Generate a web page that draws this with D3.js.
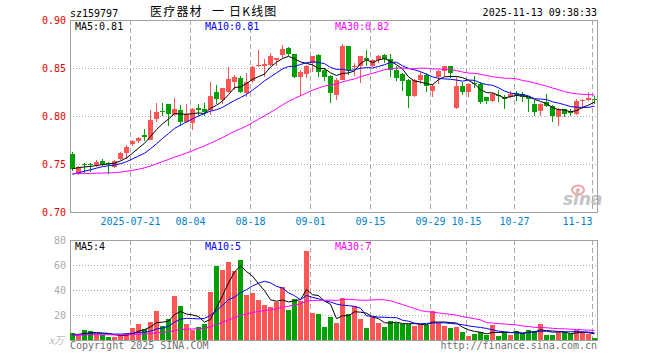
<!DOCTYPE html>
<html><head><meta charset="utf-8">
<script src="https://cdn.jsdelivr.net/npm/d3@7/dist/d3.min.js"></script>
<style>
body{margin:0;background:#fff}
svg{display:block}
text{font-family:"DejaVu Sans Mono","Liberation Mono",monospace;font-size:10px}
</style>
</head><body>
<svg id="c" width="660" height="360"></svg>
<script>
// ---- data ----
const dates = [
"2025-07-07","2025-07-08","2025-07-09","2025-07-10","2025-07-11","2025-07-14","2025-07-15","2025-07-16","2025-07-17","2025-07-18",
"2025-07-21","2025-07-22","2025-07-23","2025-07-24","2025-07-25","2025-07-28","2025-07-29","2025-07-30","2025-07-31","2025-08-01",
"2025-08-04","2025-08-05","2025-08-06","2025-08-07","2025-08-08","2025-08-11","2025-08-12","2025-08-13","2025-08-14","2025-08-15",
"2025-08-18","2025-08-19","2025-08-20","2025-08-21","2025-08-22","2025-08-25","2025-08-26","2025-08-27","2025-08-28","2025-08-29",
"2025-09-01","2025-09-02","2025-09-03","2025-09-04","2025-09-05","2025-09-08","2025-09-09","2025-09-10","2025-09-11","2025-09-12",
"2025-09-15","2025-09-16","2025-09-17","2025-09-18","2025-09-19","2025-09-22","2025-09-23","2025-09-24","2025-09-25","2025-09-26",
"2025-09-29","2025-09-30","2025-10-09","2025-10-10","2025-10-13","2025-10-14","2025-10-15","2025-10-16","2025-10-17","2025-10-20",
"2025-10-21","2025-10-22","2025-10-23","2025-10-24","2025-10-27","2025-10-28","2025-10-29","2025-10-30","2025-10-31","2025-11-03",
"2025-11-04","2025-11-05","2025-11-06","2025-11-07","2025-11-10","2025-11-11","2025-11-12","2025-11-13"];

const open = [0.760,0.741,0.750,0.750,0.749,0.753,0.751,0.747,0.755,0.761,
0.771,0.774,0.780,0.775,0.797,0.805,0.812,0.801,0.806,0.794,
0.793,0.808,0.807,0.806,0.825,0.817,0.825,0.835,0.840,0.824,
0.836,0.852,0.852,0.853,0.858,0.864,0.871,0.865,0.841,0.844,
0.855,0.864,0.848,0.842,0.822,0.838,0.873,0.851,0.852,0.860,
0.852,0.858,0.864,0.859,0.848,0.844,0.837,0.821,0.837,0.843,
0.826,0.841,0.847,0.852,0.808,0.831,0.825,0.834,0.833,0.820,
0.816,0.822,0.820,0.820,0.824,0.823,0.820,0.813,0.805,0.815,
0.810,0.799,0.807,0.805,0.802,0.816,0.817,0.818];

const high = [0.762,0.748,0.751,0.751,0.754,0.755,0.752,0.754,0.762,0.770,
0.775,0.778,0.786,0.806,0.814,0.814,0.812,0.819,0.811,0.813,
0.808,0.812,0.814,0.835,0.832,0.829,0.851,0.843,0.842,0.845,
0.852,0.869,0.859,0.866,0.860,0.874,0.872,0.865,0.848,0.853,
0.862,0.865,0.850,0.843,0.840,0.875,0.873,0.855,0.863,0.869,
0.859,0.864,0.865,0.865,0.852,0.845,0.839,0.839,0.846,0.845,
0.833,0.848,0.852,0.852,0.841,0.835,0.834,0.842,0.835,0.820,
0.825,0.827,0.822,0.826,0.826,0.825,0.820,0.817,0.814,0.823,
0.811,0.808,0.807,0.807,0.818,0.818,0.825,0.821];

const low = [0.743,0.739,0.741,0.742,0.747,0.748,0.740,0.746,0.754,0.755,
0.769,0.772,0.774,0.775,0.794,0.800,0.790,0.800,0.790,0.793,
0.785,0.800,0.800,0.801,0.812,0.813,0.824,0.827,0.824,0.820,
0.834,0.851,0.841,0.852,0.852,0.860,0.862,0.840,0.821,0.840,
0.846,0.841,0.836,0.814,0.817,0.838,0.843,0.842,0.834,0.852,
0.851,0.855,0.855,0.841,0.836,0.826,0.808,0.820,0.833,0.825,
0.820,0.833,0.841,0.840,0.807,0.822,0.820,0.829,0.813,0.812,
0.815,0.815,0.807,0.819,0.816,0.815,0.804,0.800,0.800,0.809,
0.794,0.790,0.799,0.800,0.801,0.807,0.816,0.812];

const close = [0.745,0.747,0.749,0.749,0.752,0.750,0.750,0.753,0.761,0.768,
0.774,0.777,0.778,0.796,0.804,0.804,0.802,0.807,0.794,0.802,
0.807,0.806,0.804,0.821,0.818,0.829,0.839,0.841,0.825,0.835,
0.851,0.853,0.854,0.862,0.860,0.870,0.865,0.841,0.846,0.852,
0.862,0.846,0.841,0.824,0.838,0.873,0.848,0.852,0.862,0.858,
0.858,0.862,0.859,0.848,0.840,0.836,0.821,0.837,0.843,0.831,
0.831,0.847,0.852,0.845,0.831,0.825,0.833,0.833,0.815,0.816,
0.823,0.821,0.818,0.823,0.822,0.820,0.818,0.804,0.812,0.810,
0.800,0.807,0.802,0.803,0.816,0.817,0.819,0.817];

// volume, 万
const volume = [5.9,4.0,8.0,7.2,4.8,4.0,2.4,2.7,4.0,5.9,
9.6,12.8,9.1,14.7,23.2,11.5,16.8,35.2,27.5,12.8,
8.0,10.4,12.8,38.4,59.5,56.0,62.4,55.2,64.0,36.3,
37.6,32.0,28.0,26.7,30.7,42.7,24.0,32.8,31.2,71.2,
21.9,20.8,10.7,18.4,13.6,33.6,20.5,26.9,16.8,9.6,
18.7,13.6,10.4,15.2,13.6,12.8,12.8,11.2,12.0,12.0,
23.2,13.6,11.2,9.6,10.4,6.4,3.2,4.8,6.1,4.0,
12.0,3.2,6.1,4.0,7.2,5.6,8.0,7.2,12.8,4.0,
4.0,6.1,6.1,4.8,7.7,5.6,4.8,1.6];

// sessions before the visible window (estimated from where the MA lines start)
const prevClose = [0.748,0.747,0.746,0.745,0.745,0.744,0.744,0.745,0.743,0.744,
0.740,0.738,0.737,0.736,0.735,0.735,0.734,0.736,0.733,0.732,
0.731,0.733,0.734,0.735,0.735,0.741,0.745,0.747,0.747];
const prevVolume = [4.5,3.8,4.6,4.0,3.9,4.4,4.2,3.9,4.5,4.1,4.3,4.3,
3.9,3.5,3.8,3.4,4.0,3.6,3.7,3.6,
3.4,3.6,3.3,3.7,3.5,
3.9,4.4,4.0,4.3];

const tickDates = ["2025-07-21","2025-08-04","2025-08-18","2025-09-01","2025-09-15","2025-09-29","2025-10-15","2025-10-27","2025-11-13"];
const tickLabels = ["2025-07-21","08-04","08-18","09-01","09-15","09-29","10-15","10-27","11-13"];
const priceTicks = [0.70,0.75,0.80,0.85,0.90];
const volTicks = [20,40,60,80];
const maPeriods = [5,10,30];
const priceMaLabels = ["MA5:0.81","MA10:0.81","MA30:0.82"];
const volMaLabels = ["MA5:4","MA10:5","MA30:7"];

// ---- layout ----
const svg = d3.select("#c");
const L = 70, R = 597, PT = 20, PB = 212, VT = 240, VB = 340;
const UP = "#ff5555", DOWN = "#00a000";
const maColors = ["#000000", "#0000ff", "#ff00ff"];
const GRID = "#a8a8a8";

const x = d3.scaleBand().domain(dates).range([L, R]).paddingInner(1/6).paddingOuter(0);
const bw = x.bandwidth();
const yP = d3.scaleLinear().domain([0.70, 0.90]).range([PB, PT]);
const yV = d3.scaleLinear().domain([0, 80]).range([VB, VT]);

svg.append("rect").attr("width", 660).attr("height", 360).attr("fill", "#fff");

// header
svg.append("text").attr("x", 70).attr("y", 16.5).attr("fill", "#000").text("sz159797");
const title = svg.append("text").attr("y", 16)
  .style("font-family", '"Noto Sans CJK SC","Noto Sans CJK JP",sans-serif')
  .style("font-size", "12px").style("letter-spacing", "1.2px").attr("fill", "#000");
title.append("tspan").attr("x", 150).text("医疗器材");
title.append("tspan").attr("x", 212).text("一");
title.append("tspan").attr("x", 229).text("日K线图");
svg.append("text").attr("x", 597).attr("y", 15.5).attr("text-anchor", "end").attr("fill", "#000").text("2025-11-13 09:38:33");

// watermark
const logo = svg.append("g");
logo.append("ellipse").attr("cx", 578).attr("cy", 190).attr("rx", 6).attr("ry", 4.5).attr("fill", "none").attr("stroke", "#f2a0a0").attr("stroke-width", 2);
logo.append("circle").attr("cx", 578).attr("cy", 190).attr("r", 1.8).attr("fill", "#f2a0a0");
logo.append("text").attr("x", 563).attr("y", 205).style("font-family", "DejaVu Sans, sans-serif")
  .style("font-size", "17px").style("font-style", "italic").style("font-weight", "bold").attr("fill", "#c4c4c4").text("sina");

// grids
function hGrid(vals, scale) {
  svg.append("g").selectAll("line").data(vals).join("line")
    .attr("x1", L).attr("x2", R)
    .attr("y1", d => Math.round(scale(d)) + 0.5).attr("y2", d => Math.round(scale(d)) + 0.5)
    .attr("stroke", GRID).attr("stroke-dasharray", "1,2");
}
hGrid([0.75, 0.80, 0.85], yP);
hGrid([20, 40, 60], yV);

[[PT, PB], [VT, VB]].forEach(([t, b]) => {
  svg.append("g").selectAll("line").data(tickDates).join("line")
    .attr("x1", d => x(d) + 0.5).attr("x2", d => x(d) + 0.5)
    .attr("y1", t).attr("y2", b)
    .attr("stroke", GRID).attr("stroke-dasharray", "5,3");
});

// frames
svg.append("rect").attr("x", L + 0.5).attr("y", PT + 0.5).attr("width", R - L).attr("height", PB - PT)
  .attr("fill", "none").attr("stroke", "#a0a0a0");
svg.append("rect").attr("x", L + 0.5).attr("y", VT + 0.5).attr("width", R - L).attr("height", VB - VT)
  .attr("fill", "none").attr("stroke", "#a0a0a0");

// axis labels
svg.append("g").selectAll("text").data(priceTicks).join("text")
  .attr("x", 66).attr("y", d => yP(d) + 4).attr("text-anchor", "end").attr("fill", "#e00000")
  .text(d => d.toFixed(2));
svg.append("g").selectAll("text").data(volTicks).join("text")
  .attr("x", 66).attr("y", d => yV(d) + 4).attr("text-anchor", "end").attr("fill", "#aaaaaa")
  .text(d => d);
svg.append("text").attr("x", 49).attr("y", 344).attr("fill", "#b8b8b8")
  .style("font-family", '"Noto Sans CJK SC",sans-serif').style("font-size", "10px").style("font-style", "italic").text("x万");

svg.append("g").selectAll("text").data(tickDates).join("text")
  .attr("x", d => x(d) + 0.5)
  .attr("y", 225)
  .attr("text-anchor", (d, i) => (x(d) + tickLabels[i].length * 3 > R ? "end" : "middle"))
  .attr("fill", "#0080d0")
  .text((d, i) => tickLabels[i]);

// candles
const idx = d3.range(dates.length);
const cg = svg.append("g").attr("shape-rendering", "crispEdges");
const col = i => (close[i] >= open[i] ? UP : DOWN);
cg.selectAll("rect.w").data(idx).join("rect").attr("class", "w")
  .attr("x", i => x(dates[i]) + 2).attr("width", 1)
  .attr("y", i => yP(high[i]))
  .attr("height", i => Math.max(1, yP(low[i]) - yP(high[i])))
  .attr("fill", col);
cg.selectAll("rect.b").data(idx).join("rect").attr("class", "b")
  .attr("x", i => x(dates[i])).attr("width", bw)
  .attr("y", i => yP(Math.max(open[i], close[i])))
  .attr("height", i => Math.max(1, Math.abs(yP(open[i]) - yP(close[i]))))
  .attr("fill", col);

// volume bars
cg.selectAll("rect.v").data(idx).join("rect").attr("class", "v")
  .attr("x", i => x(dates[i])).attr("width", bw)
  .attr("y", i => yV(volume[i]))
  .attr("height", i => VB - yV(volume[i]))
  .attr("fill", col);

// moving averages
function movingAvg(prev, cur, n) {
  const all = prev.concat(cur), off = prev.length;
  return cur.map((_, k) => d3.mean(all.slice(off + k - n + 1, off + k + 1)));
}
const cx = i => x(dates[i]) + bw / 2;
maPeriods.forEach((n, j) => {
  const mp = movingAvg(prevClose, close, n);
  svg.append("path").datum(mp)
    .attr("d", d3.line().x((d, i) => cx(i)).y(d => yP(d)))
    .attr("fill", "none").attr("stroke", maColors[j]).attr("stroke-width", 1);
  const mv = movingAvg(prevVolume, volume, n);
  svg.append("path").datum(mv)
    .attr("d", d3.line().x((d, i) => cx(i)).y(d => yV(d)))
    .attr("fill", "none").attr("stroke", maColors[j]).attr("stroke-width", 1);
});

// MA legends
const legX = [75, 205, 335];
svg.append("g").selectAll("text").data(priceMaLabels).join("text")
  .attr("x", (d, i) => legX[i]).attr("y", 29.5).attr("fill", (d, i) => maColors[i]).text(d => d);
svg.append("g").selectAll("text").data(volMaLabels).join("text")
  .attr("x", (d, i) => legX[i]).attr("y", 250).attr("fill", (d, i) => maColors[i]).text(d => d);

// footer
svg.append("text").attr("x", 70).attr("y", 349).attr("fill", "#707070").text("Copyright 2025 SINA.COM");
svg.append("text").attr("x", 597).attr("y", 349).attr("text-anchor", "end").attr("fill", "#707070").text("http://finance.sina.com.cn");
</script>
</body></html>
